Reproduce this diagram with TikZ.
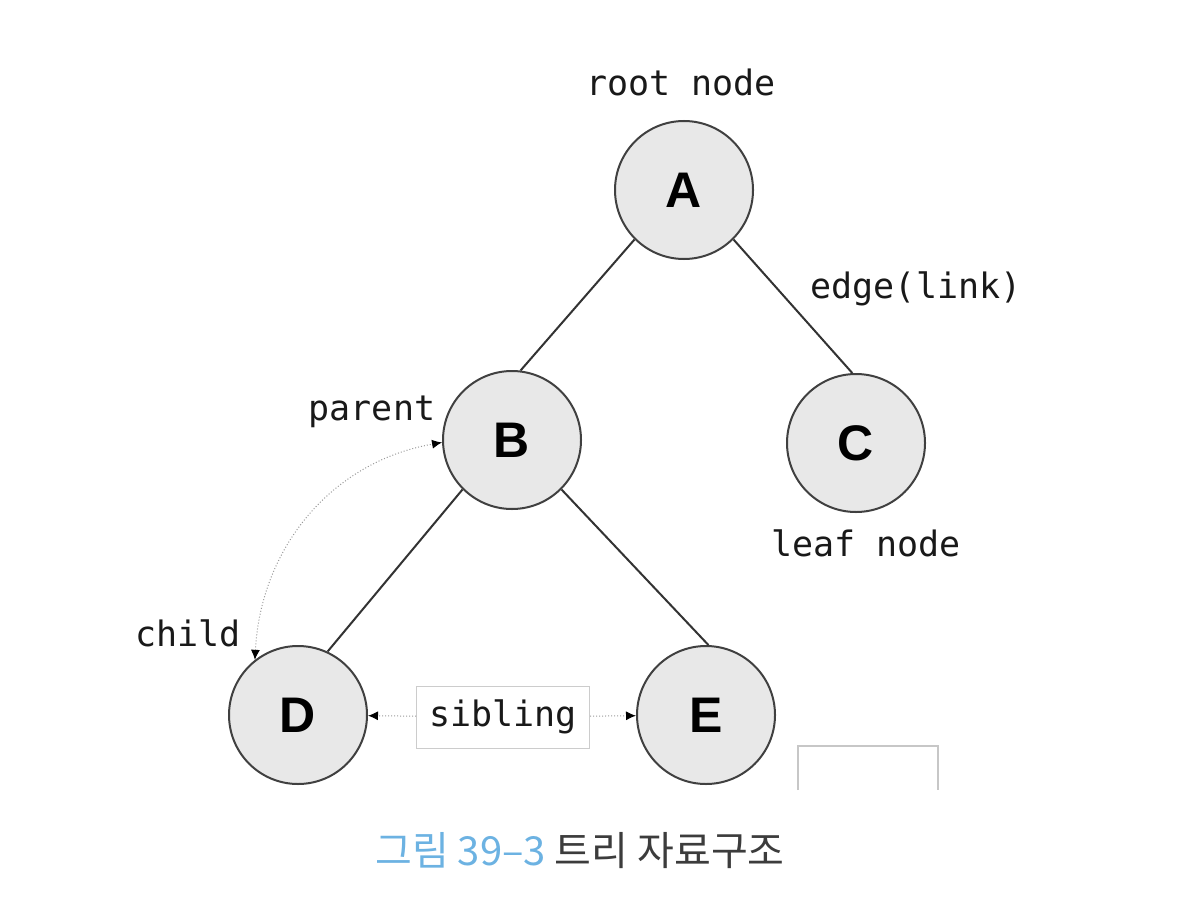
\documentclass[tikz,border=0pt]{standalone}
\usepackage{fontspec}
\setmonofont{DejaVu Sans Mono}
\newfontfamily\letterfont{Liberation Sans}
\newfontfamily\cjk{Noto Sans CJK KR}
\usetikzlibrary{arrows.meta}
\definecolor{capblue}{RGB}{108,178,226}
\definecolor{capgrey}{RGB}{60,60,60}
\begin{document}
\begin{tikzpicture}[x=0.5pt, y=-0.5pt,
			vertex/.style = {circle, draw=black!75, fill=black!9, line width=1pt, minimum size=69pt, inner sep=0pt, font=\letterfont\bfseries\fontsize{25}{25}\selectfont},
			lbl/.style = {inner sep=0pt, text=black!90, font=\ttfamily\fontsize{17.5}{20}\selectfont},
			edge/.style = {draw=black!80, line width=1pt},
			rel/.style = {draw=black!40, densely dotted, line width=0.5pt},
			>={Latex[black, length=5pt, width=4.5pt]}]
			
			\useasboundingbox (0,0) rectangle (1198,904);
			
			\node[vertex] (A) at (684,190) {A};
			\node[vertex] (B) at (512,440) {B};
			\node[vertex] (C) at (856,443) {C};
			\node[vertex] (D) at (298,715) {D};
			\node[vertex] (E) at (706,715) {E};
			
			\draw[edge] (A.225) -- (B.83);
			\draw[edge] (A.-45) -- (C.93);
			\draw[edge] (B.225) -- (D.65);
			\draw[edge] (B.-45) -- (E.88);
			
			\begin{scope}[every node/.style={lbl, anchor=base}]
				\node (rootlbl) at (681,96) {root node};
				\node (edgelbl) at (916,298) {edge(link)};
				\node (parentlbl) at (372,420) {parent};
				\node (leaflbl) at (866,556) {leaf node};
				\node (childlbl) at (188,646) {child};
			\end{scope}
			
			\node[lbl, draw=black!20, line width=0.5pt, minimum width=86.5pt, minimum height=31pt] (sib) at (503,717) {sibling};
			
			\draw[rel, ->] (sib) -- (D);
			\draw[rel, ->] (sib) -- (E);
			\draw[rel, <->] (D.128) to[out=87, in=190] (B.182);
			
			\draw[draw=black!22, line width=0.6pt] (798,790) -- (798,746) -- (938,746) -- (938,790);
			
			\node[font=\cjk\fontsize{20}{20}\selectfont, text=capgrey] (caption) at (580,851) {{\color{capblue}그림 39–3} 트리 자료구조};
		\end{tikzpicture}
\end{document}
